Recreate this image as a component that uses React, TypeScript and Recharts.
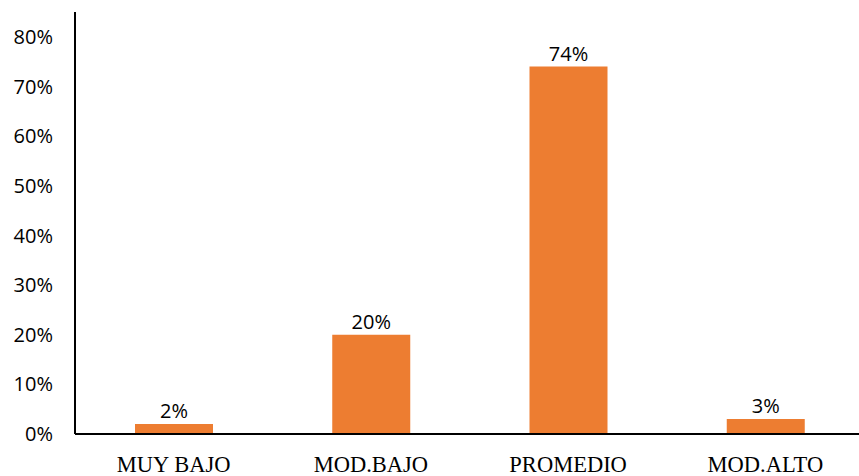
import React from "react";
import { BarChart, Bar, XAxis, YAxis, LabelList } from "recharts";

const categories = ["MUY BAJO", "MOD.BAJO", "PROMEDIO", "MOD.ALTO"];
const values = [0.02, 0.2, 0.74, 0.03];
const yTicks = [0, 0.1, 0.2, 0.3, 0.4, 0.5, 0.6, 0.7, 0.8];

const data = categories.map((c, i) => ({ name: c, value: values[i] }));
const pct = (v: number) => `${Math.round(v * 100)}%`;

export default function App() {
  return (
    <div style={{ position: "absolute", left: 0, top: 0, width: 859, height: 476, overflow: "hidden", background: "#fff" }}>
      <BarChart width={864} height={476} data={data} margin={{ top: 12, right: 0, bottom: 0, left: 0 }}>
        <XAxis
          dataKey="name"
          height={42}
          axisLine={{ stroke: "#000", strokeWidth: 2 }}
          tickLine={false}
          tickSize={0}
          tickMargin={22}
          tick={{ fill: "#000", fontSize: 22.5, fontFamily: "Liberation Serif, Times New Roman, serif" }}
          interval={0}
        />
        <YAxis
          width={75}
          domain={[0, 0.85]}
          ticks={yTicks}
          tickFormatter={pct}
          axisLine={{ stroke: "#000", strokeWidth: 2 }}
          tickLine={false}
          tickSize={20}
          tickMargin={2}
          tick={{ fill: "#000", fontSize: 20, fontFamily: "Open Sans, sans-serif" }}
          allowDataOverflow
        />
        <Bar dataKey="value" fill="#ED7D31" barSize={78} isAnimationActive={false}>
          <LabelList dataKey="value" position="top" offset={6} formatter={pct} style={{ fill: "#000", fontSize: 20, fontFamily: "Open Sans, sans-serif" }} />
        </Bar>
      </BarChart>
    </div>
  );
}
